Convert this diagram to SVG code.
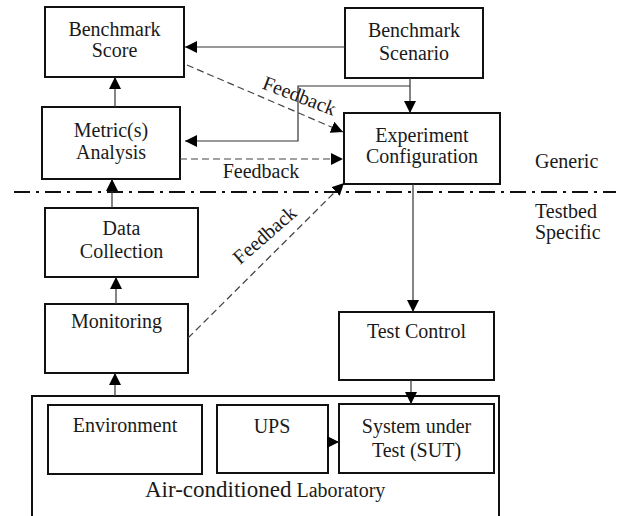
<svg xmlns="http://www.w3.org/2000/svg" width="622" height="516" viewBox="0 0 622 516">
<style>
.box{fill:#fff;stroke:#111;stroke-width:2}
.t{font-family:"Liberation Serif","Times New Roman",serif;font-size:20px;fill:#1a1a1a;text-anchor:middle}
.l{font-family:"Liberation Serif","Times New Roman",serif;font-size:20px;fill:#1a1a1a}
.c{fill:none;stroke:#333;stroke-width:1.2}
.d{fill:none;stroke:#444;stroke-width:1.2;stroke-dasharray:7 4}
.sep{fill:none;stroke:#111;stroke-width:2;stroke-dasharray:16 6 3 6}
</style>
<defs>
<marker id="ah" markerWidth="12" markerHeight="12" viewBox="0 0 12 12" refX="12" refY="6" orient="auto" markerUnits="userSpaceOnUse">
<path d="M0,0 L12,6 L0,12 Z" fill="#000"/>
</marker>
</defs>

<line class="sep" x1="14" y1="192" x2="616" y2="192"/>
<text class="l" x="535" y="168">Generic</text>
<text class="l" x="535" y="218">Testbed</text>
<text class="l" x="535" y="239">Specific</text>

<g id="lab">
<rect class="box" x="32" y="396" width="467" height="130"/>
<text class="l" x="145" y="497"><tspan font-size="23">Air-conditioned</tspan> Laboratory</text>
</g>
<g id="score">
<rect class="box" x="45" y="7" width="139" height="70"/>
<text class="t" x="114.5" y="36">Benchmark</text>
<text class="t" x="114.5" y="57">Score</text>
</g>
<g id="scenario">
<rect class="box" x="345" y="8" width="138" height="70"/>
<text class="t" x="414" y="37">Benchmark</text>
<text class="t" x="414" y="60">Scenario</text>
</g>
<g id="metric">
<rect class="box" x="42" y="107" width="138" height="72"/>
<text class="t" x="111" y="137">Metric(s)</text>
<text class="t" x="111" y="159">Analysis</text>
</g>
<g id="expconf">
<rect class="box" x="344" y="113" width="156" height="71"/>
<text class="t" x="422" y="142">Experiment</text>
<text class="t" x="422" y="163">Configuration</text>
</g>
<g id="datacoll">
<rect class="box" x="45" y="208" width="153" height="69"/>
<text class="t" x="121.5" y="235">Data</text>
<text class="t" x="121.5" y="258">Collection</text>
</g>
<g id="monitoring">
<rect class="box" x="45" y="304" width="143" height="69"/>
<text class="t" x="116.5" y="328">Monitoring</text>
</g>
<g id="testcontrol">
<rect class="box" x="339" y="312" width="155" height="68"/>
<text class="t" x="416.5" y="338">Test Control</text>
</g>
<g id="environment">
<rect class="box" x="48" y="405" width="154" height="69"/>
<text class="t" x="125" y="432">Environment</text>
</g>
<g id="ups">
<rect class="box" x="217" y="405" width="111" height="68"/>
<text class="t" x="272" y="433">UPS</text>
</g>
<g id="sut">
<rect class="box" x="339" y="404" width="155" height="69"/>
<text class="t" x="416.5" y="433">System under</text>
<text class="t" x="416.5" y="457">Test (SUT)</text>
</g>

<g id="connectors">
<line class="c" x1="345" y1="47" x2="185" y2="47" marker-end="url(#ah)"/>
<line class="c" x1="410" y1="78" x2="410" y2="113" marker-end="url(#ah)"/>
<polyline class="c" points="410,86 298,86 298,141 185,141" marker-end="url(#ah)"/>
<line class="c" x1="115" y1="107" x2="115" y2="77" marker-end="url(#ah)"/>
<line class="c" x1="112" y1="208" x2="112" y2="179" marker-end="url(#ah)"/>
<line class="c" x1="116" y1="304" x2="116" y2="277" marker-end="url(#ah)"/>
<line class="c" x1="115" y1="396" x2="115" y2="373" marker-end="url(#ah)"/>
<line class="c" x1="413" y1="184" x2="413" y2="312" marker-end="url(#ah)"/>
<line class="c" x1="411" y1="380" x2="411" y2="404" marker-end="url(#ah)"/>
<line class="c" x1="328" y1="442" x2="339" y2="442" marker-end="url(#ah)"/>
<line class="d" x1="187" y1="65" x2="343" y2="132" marker-end="url(#ah)"/>
<line class="d" x1="180" y1="159" x2="343" y2="159" marker-end="url(#ah)"/>
<line class="d" x1="188" y1="338" x2="344" y2="183" marker-end="url(#ah)"/>
<text class="t" transform="translate(297,102) rotate(21)">Feedback</text>
<text class="t" x="261" y="178">Feedback</text>
<text class="t" transform="translate(269,240) rotate(-41)">Feedback</text>
</g>
</svg>
